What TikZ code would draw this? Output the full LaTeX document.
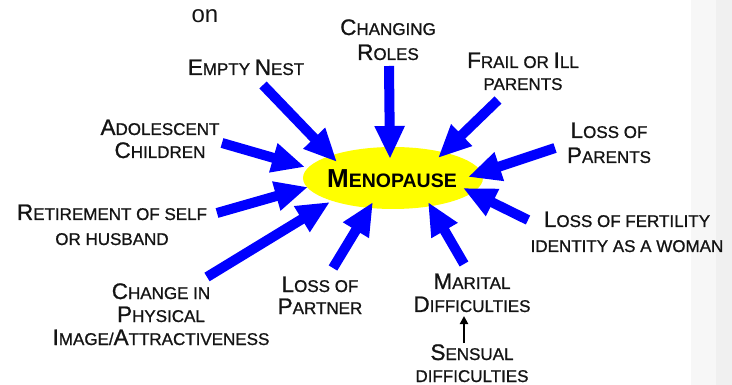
\documentclass[tikz,border=0pt]{standalone}
\usepackage{fontspec}
\setmainfont{Liberation Sans}
\newfontfamily\lblfont{Liberation Sans}[FakeBold=0.9]
\usetikzlibrary{arrows.meta,shapes.geometric}
\newcommand\capl[1]{{\fontsize{22.5}{24}\selectfont #1}}
\newcommand\capm[1]{{\fontsize{26}{28}\selectfont #1}}
\definecolor{arrowblue}{RGB}{0,0,255}
\definecolor{sunyellow}{RGB}{255,255,0}
\definecolor{txt}{RGB}{20,20,20}
\tikzset{
  lbl/.style={anchor=base, align=center, text=txt, inner sep=0pt,
    font=\lblfont\fontsize{17}{#1}\selectfont},
  lbl/.default=23,
  bigarrow/.style={draw=arrowblue, line width=10pt,
    -{Triangle[width=28pt,length=33pt]}, fill=arrowblue},
  smallarrow/.style={draw=black, line width=2pt,
    -{Triangle[width=8pt,length=8pt]}},
}
\begin{document}
\begin{tikzpicture}[x=1pt,y=-1pt]
\useasboundingbox (0,0) rectangle (732,385);
\fill[white] (0,0) rectangle (732,385);
\fill[black!3] (691,0) rectangle (716,385);
\fill[black!6] (716,0) rectangle (732,385);

% centre
\node[ellipse, fill=sunyellow, minimum width=180pt, minimum height=62pt, inner sep=0pt] (meno) at (393,178) {};
\node[anchor=base, inner sep=0pt, font=\bfseries\fontsize{19.5}{22}\selectfont] (menotxt) at (392,188) {\capm{M}ENOPAUSE};

% labels (anchor = baseline of last line)
\node[lbl, font=\fontsize{24}{26}\selectfont] (on) at (205,23) {on};
\node[lbl=25] (roles) at (388,60) {\capl{C}HANGING\\\capl{R}OLES};
\node[lbl] (nest) at (246,75) {\capl{E}MPTY \capl{N}EST};
\node[lbl=22] (frail) at (523,90) {\capl{F}RAIL OR \capl{I}LL\\PARENTS};
\node[lbl=25] (lparents) at (609,163) {\capl{L}OSS OF\\\capl{P}ARENTS};
\node[lbl=23] (adol) at (160,158) {\capl{A}DOLESCENT\\\capl{C}HILDREN};
\node[lbl=25] (retire) at (112,245) {\capl{R}ETIREMENT OF SELF\\OR HUSBAND};
\node[lbl=23] (phys) at (161,345) {\capl{C}HANGE IN\\\capl{P}HYSICAL\\\capl{I}MAGE/\capl{A}TTRACTIVENESS};
\node[lbl=22] (partner) at (320,314) {\capl{L}OSS OF\\\capl{P}ARTNER};
\node[lbl=23] (marital) at (472,312) {\capl{M}ARITAL\\\capl{D}IFFICULTIES};
\node[lbl=22] (sensual) at (472,382) {\capl{S}ENSUAL\\DIFFICULTIES};
\node[lbl=25] (fert) at (627,252) {\capl{L}OSS OF FERTILITY\\IDENTITY AS A WOMAN};

% arrow tails and tips
\coordinate (s1) at (263,85);  \coordinate (e1) at (337,162);
\coordinate (s2) at (389,66);  \coordinate (e2) at (390,159);
\coordinate (s3) at (498,100); \coordinate (e3) at (438,158);
\coordinate (s4) at (555,148); \coordinate (e4) at (468,177);
\coordinate (s5) at (528,220); \coordinate (e5) at (463,188);
\coordinate (s6) at (464,264); \coordinate (e6) at (428,202);
\coordinate (s7) at (333,268); \coordinate (e7) at (373,202);
\coordinate (s8) at (207,277); \coordinate (e8) at (330,202);
\coordinate (s9) at (217,213); \coordinate (e9) at (308,187);
\coordinate (s10) at (222,143); \coordinate (e10) at (305,167);

\foreach \i in {1,...,10} { \draw[bigarrow] (s\i) -- (e\i); }

\coordinate (ss) at (464,343);
\coordinate (se) at (464,316);
\draw[smallarrow] (ss) -- (se);
\end{tikzpicture}
\end{document}
